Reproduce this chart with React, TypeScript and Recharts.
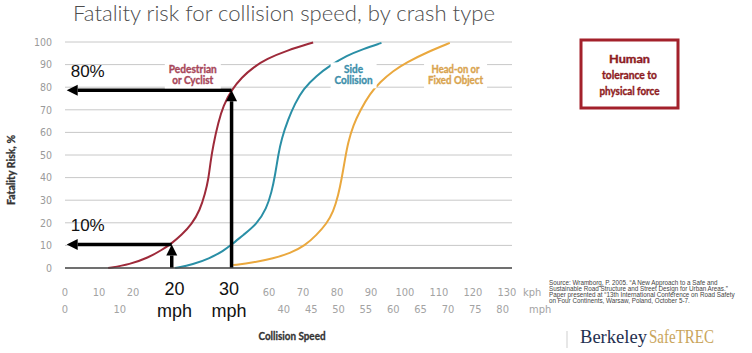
import { ComposedChart, Line, XAxis, YAxis, CartesianGrid, ReferenceLine, ReferenceDot } from "recharts";

const KPH_PER_MPH = 1.609344;
const NARROW = "'Liberation Sans Narrow', 'DejaVu Sans Condensed', 'Liberation Sans', sans-serif";
const SANS = "'Liberation Sans', Arial, sans-serif";
const BOLD = "Lato, 'Open Sans', sans-serif";

// axes
const riskTicks = [0, 10, 20, 30, 40, 50, 60, 70, 80, 90, 100];
// kph row (30-50 are hidden under the big mph callouts)
const kphTicks = [0, 10, 20, 60, 70, 80, 90, 100, 110, 120, 130];
// mph row, 20 and 30 are drawn as the big callouts
const mphTicks = [0, 10, 20, 30, 40, 45, 50, 55, 60, 65, 70, 75, 80];
const calloutMph = [20, 30];

// curves (kph -> fatality %)
const pedestrianKph = [12.7, 19.1, 24.5, 28.4, 31.4, 34.3, 37.3, 39.7, 41.2, 42.2, 42.8, 43.6, 45.1, 46.6, 49.0, 52.0, 55.4, 59.3, 65.2, 73.0];
const pedestrianRisk = [0, 1.6, 4.6, 7.9, 10.9, 14.6, 19.4, 25.6, 32.9, 39.3, 46.9, 54.3, 64.5, 71.9, 78.8, 84.4, 88.8, 92.5, 96.2, 99.8];

const sideKph = [32.4, 37.7, 42.6, 46.6, 49.0, 52.5, 56.4, 59.3, 60.8, 61.8, 62.7, 63.7, 65.7, 67.6, 70.1, 74.0, 77.9, 82.9, 87.7, 93.1];
const sideRisk = [0, 1.6, 4.3, 7.6, 10.3, 14.7, 19.4, 26.3, 33.7, 41.0, 49.8, 57.2, 66.0, 72.6, 79.3, 85.1, 89.5, 94.0, 96.9, 99.6];

const headOnKph = [49.5, 55.4, 61.3, 66.2, 70.6, 74.0, 77.0, 78.9, 80.4, 81.4, 82.4, 83.3, 84.8, 86.8, 89.7, 92.6, 96.6, 100.5, 106.4, 113.2];
const headOnRisk = [1.3, 2.4, 4.3, 6.5, 9.9, 14.6, 19.7, 24.8, 32.2, 39.6, 48.4, 55.7, 63.1, 69.7, 77.1, 82.2, 87.3, 91.0, 95.4, 99.6];

// arrows: up from the speed, then left to the risk
const arrowKph = [31.4, 49.0];
const arrowRisk = [10.4, 78.6];
const arrowLabels = ["10%", "80%"];
const arrowEndKph = 0.5;

// curve names
const curveNames = [["Pedestrian", "or Cyclist"], ["Side", "Collision"], ["Head-on or", "Fixed Object"]];
const curveLabelKph = [37.6, 84.9, 114.9];
const curveLabelRisk = 84.8;
const curveColors = ["#9e2a3a", "#2a8fa6", "#eaa83e"];
const curveTextColors = ["#a8475a", "#3d8fab", "#d9a44f"];
const curveLabelWidths = [[48, 41], [19, 38], [48, 55]];

const boxLines = ["Human", "tolerance to", "physical force"];
const boxLineWidths = [41, 55, 60];

const sourceLines = [
  "Source: Wramborg, P. 2005. \u201cA New Approach to a Safe and",
  "Sustainable Road Structure and Street Design for Urban Areas.\u201d",
  "Paper presented at \u201c13th International Conference on Road Safety",
  "on Four Continents, Warsaw, Poland, October 5-7.",
];

const toPoints = (xs: number[], ys: number[]) => xs.map((kph, i) => ({ kph, risk: ys[i] }));
const curves = [
  toPoints(pedestrianKph, pedestrianRisk),
  toPoints(sideKph, sideRisk),
  toPoints(headOnKph, headOnRisk),
];
// empty series so the mph axis has something to hang on
const mphRow = mphTicks.map((mph) => ({ mph, risk: null }));

function KphTick({ x, y, payload }: any) {
  return (
    <text x={x} y={y + 28} textAnchor="middle" fill="#a3a3a3" fontSize={11} fontFamily={NARROW}>
      {payload.value}
    </text>
  );
}

function MphTick({ x, y, payload }: any) {
  if (calloutMph.includes(payload.value)) {
    return (
      <g fontFamily={SANS} fill="#111" textAnchor="middle" fontSize={18}>
        <text x={x} y={y - 3}>{payload.value}</text>
        <text x={x} y={y + 18.5}>mph</text>
      </g>
    );
  }
  return (
    <text x={x} y={y + 15} textAnchor="middle" fill="#a3a3a3" fontSize={11} fontFamily={NARROW}>
      {payload.value}
    </text>
  );
}

function Arrow({ x1, y1, x2, y2, label }: any) {
  const len = Math.hypot(x2 - x1, y2 - y1) || 1;
  const ux = (x2 - x1) / len;
  const uy = (y2 - y1) / len;
  const head = 11;
  const half = 5.5;
  const bx = x2 - ux * head;
  const by = y2 - uy * head;
  return (
    <g>
      <line x1={x1} y1={y1} x2={bx} y2={by} stroke="#000" strokeWidth={3.5} />
      <polygon
        points={`${x2},${y2} ${bx - uy * half},${by + ux * half} ${bx + uy * half},${by - ux * half}`}
        fill="#000"
      />
      {label && (
        <text x={x2 + 4} y={y2 - 13} fontSize={17} fontFamily={SANS} fill="#111">
          {label}
        </text>
      )}
    </g>
  );
}

function CurveLabel({ cx, cy, lines, widths, color }: any) {
  const w = Math.max(...widths) + 8;
  return (
    <g>
      <rect x={cx - w / 2} y={cy - 14} width={w} height={26} fill="#fff" />
      <g textAnchor="middle" fontSize={10.5} fontWeight="bold" fontFamily={BOLD} fill={color} stroke={color} strokeWidth={0.35}>
        <text x={cx} y={cy - 3} textLength={widths[0]} lengthAdjust="spacingAndGlyphs">{lines[0]}</text>
        <text x={cx} y={cy + 8} textLength={widths[1]} lengthAdjust="spacingAndGlyphs">{lines[1]}</text>
      </g>
    </g>
  );
}

export default function App() {
  return (
    <div style={{ position: "absolute", left: 0, top: 0, width: 752, height: 353, background: "#fff" }}>
      <ComposedChart width={752} height={353} margin={{ top: 42, right: 240, bottom: 0, left: 0 }}>
        <CartesianGrid xAxisId="kph" vertical={false} stroke="#c8c8c8" />
        <XAxis
          xAxisId="kph"
          type="number"
          dataKey="kph"
          domain={[0, 131.5]}
          allowDataOverflow
          ticks={kphTicks}
          interval={0}
          tickSize={0}
          tickMargin={0}
          tickLine={false}
          axisLine={{ stroke: "#4a4a4a", strokeWidth: 1.5 }}
          height={30}
          tick={<KphTick />}
        />
        <XAxis
          xAxisId="mph"
          type="number"
          dataKey="mph"
          domain={[0, 131.5 / KPH_PER_MPH]}
          allowDataOverflow
          ticks={mphTicks}
          interval={0}
          tickSize={0}
          tickMargin={0}
          tickLine={false}
          axisLine={false}
          height={55}
          tick={<MphTick />}
        />
        <YAxis
          type="number"
          domain={[0, 100]}
          ticks={riskTicks}
          interval={0}
          width={65}
          axisLine={false}
          tickLine={false}
          tickSize={0}
          tickMargin={13}
          tick={{ fill: "#9a9a9a", fontSize: 10.5, fontFamily: NARROW }}
        />
        {curveNames.map((lines, i) => (
          <ReferenceDot
            key={lines[0]}
            xAxisId="kph"
            x={curveLabelKph[i]}
            y={curveLabelRisk}
            r={0}
            ifOverflow="visible"
            shape={(p: any) => (
              <CurveLabel cx={p.cx} cy={p.cy} lines={lines} widths={curveLabelWidths[i]} color={curveTextColors[i]} />
            )}
          />
        ))}
        <Line
          xAxisId="mph"
          data={mphRow}
          dataKey="risk"
          stroke="none"
          dot={false}
          legendType="none"
          isAnimationActive={false}
        />
        {curves.map((pts, i) => (
          <Line
            key={i}
            xAxisId="kph"
            data={pts}
            dataKey="risk"
            type="basis"
            stroke={curveColors[i]}
            strokeWidth={2}
            dot={false}
            isAnimationActive={false}
          />
        ))}
        {arrowKph.map((kph, i) => (
          <ReferenceLine
            key={"v" + i}
            xAxisId="kph"
            segment={[{ x: kph, y: 0 }, { x: kph, y: arrowRisk[i] }]}
            shape={(p: any) => <Arrow x1={p.x1} y1={p.y1} x2={p.x2} y2={p.y2} />}
          />
        ))}
        {arrowKph.map((kph, i) => (
          <ReferenceLine
            key={"h" + i}
            xAxisId="kph"
            segment={[{ x: kph, y: arrowRisk[i] }, { x: arrowEndKph, y: arrowRisk[i] }]}
            shape={(p: any) => <Arrow x1={p.x1} y1={p.y1} x2={p.x2} y2={p.y2} label={arrowLabels[i]} />}
          />
        ))}
      </ComposedChart>

      <svg width={752} height={353} style={{ position: "absolute", left: 0, top: 0, pointerEvents: "none" }}>
        <text x={73} y={21} fontSize={21} fontWeight={300} fontFamily="Lato, 'Open Sans', sans-serif" fill="#4d4d4d" textLength={422} lengthAdjust="spacingAndGlyphs">
          Fatality risk for collision speed, by crash type
        </text>
        <text transform="translate(14.5,170) rotate(-90)" textAnchor="middle" fontSize={10.5} fontWeight="bold" fontFamily={BOLD} fill="#333" stroke="#333" strokeWidth={0.3} textLength={70} lengthAdjust="spacingAndGlyphs">
          Fatality Risk, %
        </text>
        <text x={292} y={340} textAnchor="middle" fontSize={11} fontWeight="bold" fontFamily={BOLD} fill="#333" stroke="#333" strokeWidth={0.3} textLength={67} lengthAdjust="spacingAndGlyphs">
          Collision Speed
        </text>
        <text x={523} y={296} fontSize={11} fontFamily={NARROW} fill="#a3a3a3">kph</text>
        <text x={529} y={313} fontSize={11} fontFamily={NARROW} fill="#a3a3a3">mph</text>

        <rect x={581} y={40} width={97} height={68} fill="#fff" stroke="#a3212b" strokeWidth={3} />
        <g textAnchor="middle" fontSize={12} fontWeight="bold" fontFamily={BOLD} fill="#8e1b22" stroke="#8e1b22" strokeWidth={0.4}>
          {boxLines.map((s, i) => (
            <text key={s} x={629.5} y={63 + i * 16} textLength={boxLineWidths[i]} lengthAdjust="spacingAndGlyphs">{s}</text>
          ))}
        </g>

        <g fontSize={6.3} fontFamily={SANS} fill="#444">
          {sourceLines.map((s, i) => (
            <text key={i} x={549} y={284.5 + i * 6.2}>{s}</text>
          ))}
        </g>

        <line x1={567} y1={331} x2={567} y2={348} stroke="#cfcfcf" strokeWidth={1} />
        <text x={580} y={343} fontSize={19} fontFamily="'Liberation Serif', serif" fill="#1f3050" textLength={67} lengthAdjust="spacingAndGlyphs">
          Berkeley
        </text>
        <text x={649} y={343} fontSize={19} fontFamily="'Liberation Serif', serif" fill="#c9a55c" textLength={65} lengthAdjust="spacingAndGlyphs">
          SafeTREC
        </text>
      </svg>
    </div>
  );
}
